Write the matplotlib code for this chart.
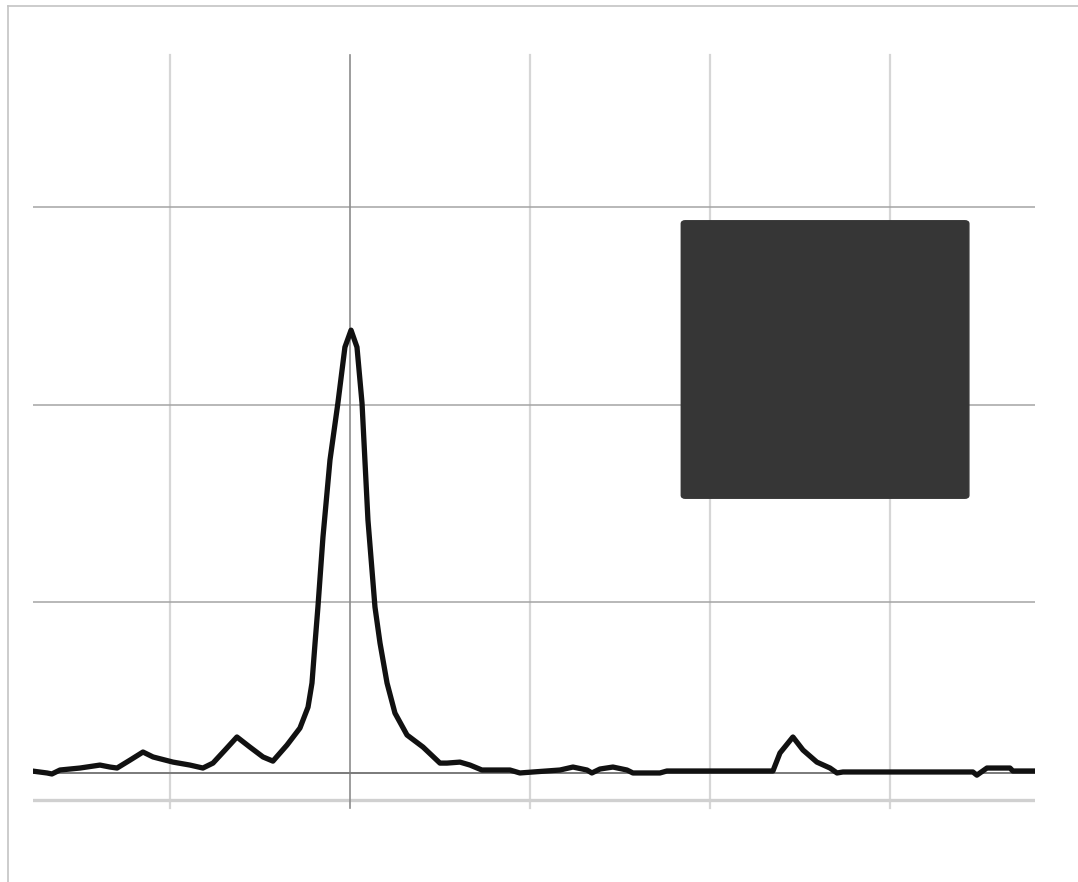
import numpy as np
import matplotlib
matplotlib.use("Agg")
import matplotlib.pyplot as plt
from matplotlib.lines import Line2D
from matplotlib.patches import FancyBboxPatch

# trace (x in grid units, 0 = dark vertical line)
x = [-1.767, -1.683, -1.656, -1.611, -1.5, -1.389, -1.333, -1.294, -1.222, -1.15,
     -1.094, -0.983, -0.889, -0.817, -0.761, -0.694, -0.628, -0.556, -0.483, -0.428,
     -0.35, -0.278, -0.233, -0.211, -0.194, -0.178, -0.15, -0.111, -0.067, -0.028,
     0.006, 0.039, 0.067, 0.1, 0.139, 0.167, 0.206, 0.25, 0.317, 0.406,
     0.5, 0.539, 0.611, 0.667, 0.733, 0.889, 0.944, 1.017, 1.167, 1.239,
     1.317, 1.344, 1.389, 1.461, 1.539, 1.572, 1.722, 1.761, 2.35, 2.389,
     2.461, 2.517, 2.594, 2.667, 2.706, 2.739, 3.461, 3.483, 3.539, 3.667,
     3.683, 3.811]
y = [0.147, 0.137, 0.132, 0.152, 0.162, 0.177, 0.167, 0.162, 0.202, 0.243,
     0.218, 0.192, 0.177, 0.162, 0.187, 0.253, 0.319, 0.268, 0.218, 0.197,
     0.278, 0.364, 0.470, 0.592, 0.794, 0.976, 1.330, 1.720, 2.008, 2.291,
     2.377, 2.291, 2.008, 1.416, 0.976, 0.794, 0.592, 0.440, 0.329, 0.268,
     0.187, 0.187, 0.192, 0.177, 0.152, 0.152, 0.137, 0.142, 0.152, 0.167,
     0.152, 0.137, 0.157, 0.167, 0.152, 0.137, 0.137, 0.147, 0.147, 0.238,
     0.319, 0.253, 0.192, 0.162, 0.137, 0.142, 0.142, 0.126, 0.162, 0.162,
     0.147, 0.147]

x_grid = [-1, 1, 2, 3]
y_grid = [1, 2, 3]
baseline = 0.137

fig = plt.figure(figsize=(10.78, 8.82), dpi=100)
ax = fig.add_axes([33 / 1078, 77 / 882, 1002 / 1078, 750 / 882])
ax.set_xlim(-1.761, 3.806)
ax.set_ylim(-0.025, 3.769)

for gx in x_grid:
    ax.axvline(gx, ymin=-0.004, color="#d6d6d6", lw=1.6, zorder=1, clip_on=False)
for gy in y_grid:
    ax.axhline(gy, color="#a4a4a4", lw=1.1, zorder=1)
ax.axhline(0, color="#d0d0d0", lw=2.4, zorder=1)
ax.axvline(0, ymin=-0.004, color="#8c8c8c", lw=1.2, zorder=2, clip_on=False)
ax.axhline(baseline, color="#7a7a7a", lw=1.4, zorder=2)

ax.plot(x, y, color="#111111", lw=3.8, solid_joinstyle="round",
        solid_capstyle="round", zorder=3)

# dark box in the upper right (redacted legend)
box = FancyBboxPatch((0.647, 0.409), 0.287, 0.37, transform=ax.transAxes,
                     boxstyle="round,pad=0,rounding_size=0.004",
                     facecolor="#363636", edgecolor="#363636", lw=1, zorder=4)
ax.add_patch(box)

for s in ax.spines.values():
    s.set_visible(False)
ax.set_xticks([])
ax.set_yticks([])

# thin frame along top and left of the figure
fig.add_artist(Line2D([8 / 1078, 1], [1 - 6 / 882, 1 - 6 / 882], transform=fig.transFigure,
                      color="#c4c4c4", lw=1.2))
fig.add_artist(Line2D([8 / 1078, 8 / 1078], [0, 1 - 6 / 882], transform=fig.transFigure,
                      color="#c4c4c4", lw=1.2))

fig.savefig("out.png", dpi=100)
